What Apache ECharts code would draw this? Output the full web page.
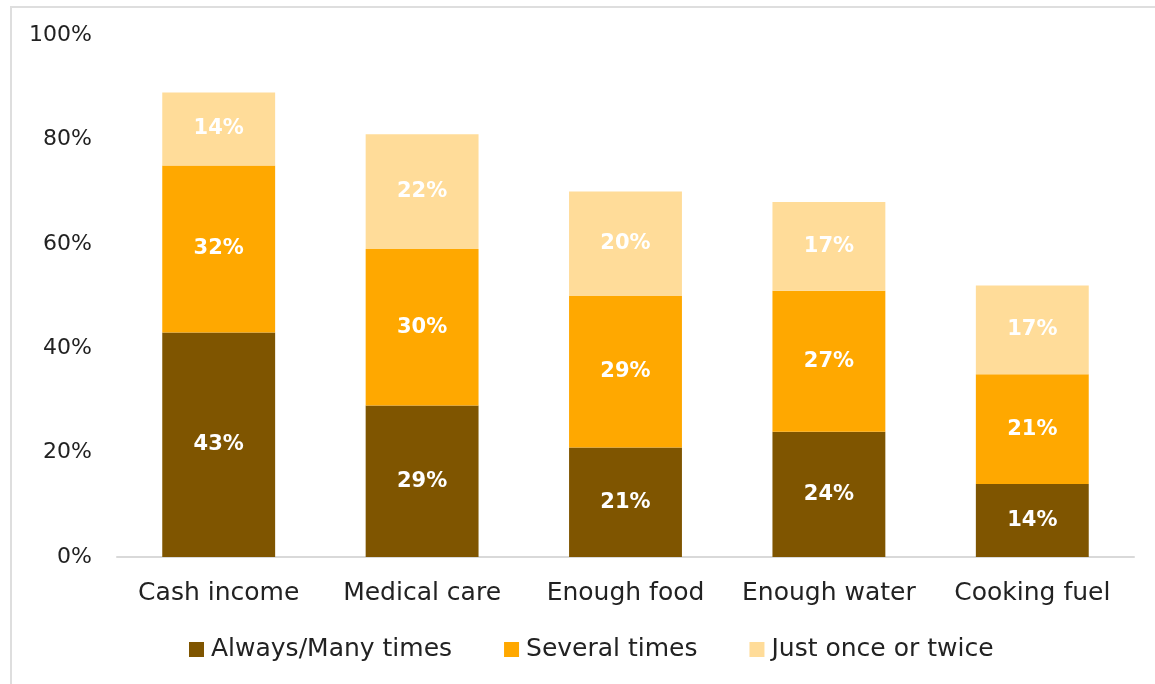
<!DOCTYPE html>
<html><head><meta charset="utf-8">
<script src="https://cdn.jsdelivr.net/npm/echarts@6/dist/echarts.min.js"></script>
<style>html,body{margin:0;padding:0;background:#fff}#c{width:1155px;height:684px}
#frame{position:absolute;left:10px;top:6px;width:1160px;height:700px;border:2px solid #dedede;box-sizing:border-box;pointer-events:none}</style>
</head><body><div id="c"></div><div id="frame"></div>
<script>
const categories = ['Cash income','Medical care','Enough food','Enough water','Cooking fuel'];
const always = [43,29,21,24,14];
const several = [32,30,29,27,21];
const justOnce = [14,22,20,17,17];
const yTicks = [0,20,40,60,80,100];
const seriesNames = ['Always/Many times','Several times','Just once or twice'];
const colors = ['#7F5500','#FFA800','#FFDC99'];
const FONT = '"Century Gothic","URW Gothic","DejaVu Sans",sans-serif';
const chart = echarts.init(document.getElementById('c'));
const lbl = {show:true, position:'inside', color:'#fff', fontWeight:'bold', fontSize:21, fontFamily:FONT, formatter: p => p.value + '%'};
chart.setOption({
  animation:false,
  textStyle:{fontFamily:FONT},
  grid:{left:117,right:21,top:35,bottom:127},
  legend:{bottom:17,left:184,itemWidth:15,itemHeight:15,itemGap:52,icon:'rect',
    textStyle:{fontSize:25,color:'#222',fontFamily:FONT,padding:[0,0,0,2]},data:seriesNames},
  xAxis:{type:'category',data:categories,axisTick:{show:false},
    axisLine:{lineStyle:{color:'#d9d9d9',width:2}},
    axisLabel:{fontSize:25,color:'#222',margin:24,interval:0,fontFamily:FONT}},
  yAxis:{type:'value',min:0,max:100,interval:20,splitLine:{show:false},
    axisLine:{show:false},axisTick:{show:false},
    axisLabel:{fontSize:22,color:'#222',margin:25,fontFamily:FONT,formatter:v=>v+'%'}},
  series:[always,several,justOnce].map((d,i)=>({
    name:seriesNames[i],type:'bar',stack:'a',data:d,barWidth:'55.5%',
    itemStyle:{color:colors[i]},label:lbl
  }))
});
</script></body></html>
